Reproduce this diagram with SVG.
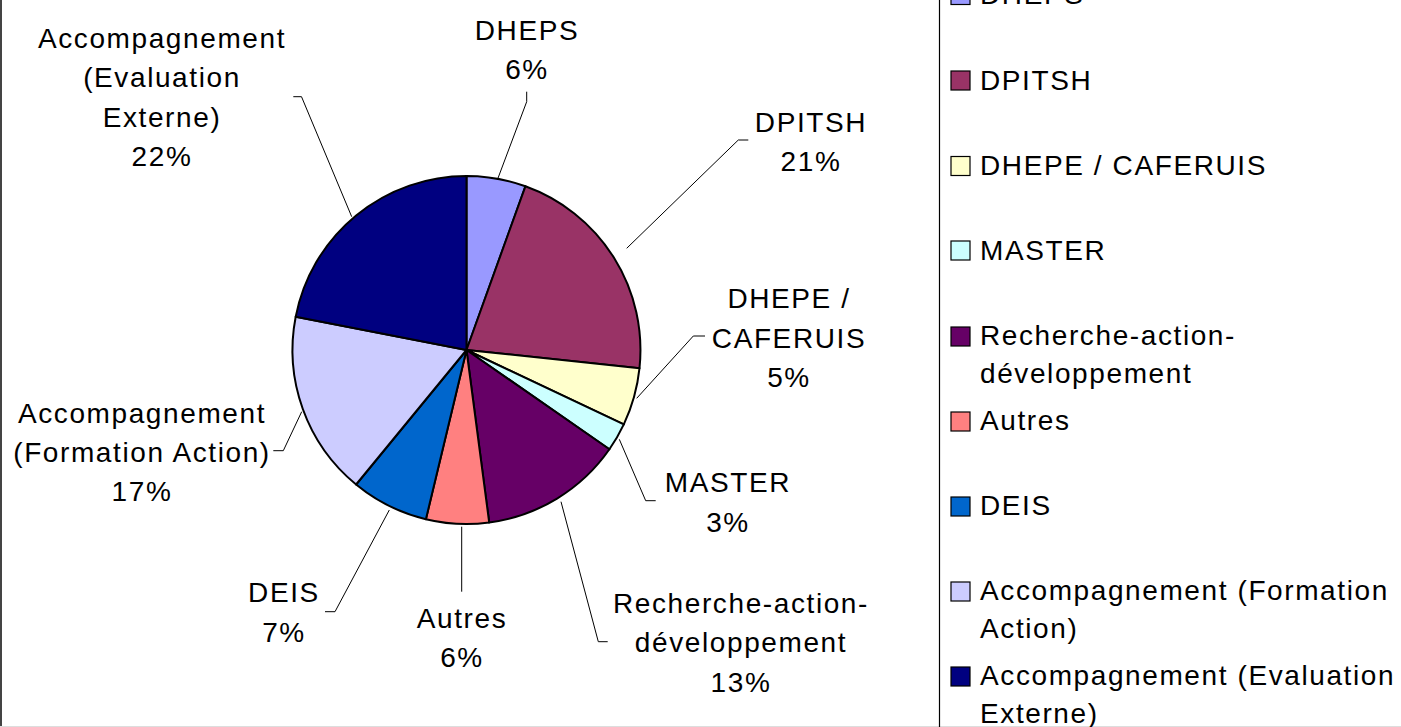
<svg xmlns="http://www.w3.org/2000/svg" width="1401" height="727" viewBox="0 0 1401 727">
<style>
text { font-family: "Liberation Sans", Arial, sans-serif; font-size: 28px; letter-spacing: 1.6px; fill: #000; }
.lbl { text-anchor: middle; }
.slice { stroke: #000; stroke-width: 2; stroke-linejoin: round; }
.lead { fill: none; stroke: #000; stroke-width: 1; }
.sw { stroke: #000; stroke-width: 1.2; }
</style>
<rect x="0" y="0" width="1401" height="727" fill="#fff"/>
<line x1="1" y1="0" x2="1" y2="727" stroke="#444" stroke-width="2"/>
<line x1="0" y1="726.5" x2="1401" y2="726.5" stroke="#ddd" stroke-width="1"/>

<g id="pie">
  <g id="slice-dheps"><path class="slice" fill="#9999FF" d="M466.5,350 L466.5,176 A174,174 0 0 1 525.4,186.3 Z"/></g>
  <g id="slice-dpitsh"><path class="slice" fill="#993366" d="M466.5,350 L525.4,186.3 A174,174 0 0 1 639.5,368.2 Z"/></g>
  <g id="slice-dhepe"><path class="slice" fill="#FFFFCC" d="M466.5,350 L639.5,368.2 A174,174 0 0 1 623.8,424.4 Z"/></g>
  <g id="slice-master"><path class="slice" fill="#CCFFFF" d="M466.5,350 L623.8,424.4 A174,174 0 0 1 609.4,449.3 Z"/></g>
  <g id="slice-recherche"><path class="slice" fill="#660066" d="M466.5,350 L609.4,449.3 A174,174 0 0 1 489.2,522.5 Z"/></g>
  <g id="slice-autres"><path class="slice" fill="#FF8080" d="M466.5,350 L489.2,522.5 A174,174 0 0 1 425.9,519.2 Z"/></g>
  <g id="slice-deis"><path class="slice" fill="#0066CC" d="M466.5,350 L425.9,519.2 A174,174 0 0 1 356.1,484.5 Z"/></g>
  <g id="slice-formation"><path class="slice" fill="#CCCCFF" d="M466.5,350 L356.1,484.5 A174,174 0 0 1 295.7,316.8 Z"/></g>
  <g id="slice-evaluation"><path class="slice" fill="#000080" d="M466.5,350 L295.7,316.8 A174,174 0 0 1 466.5,176 Z"/></g>
</g>

<g id="connectors">
  <path class="lead" d="M497.3,180 L526.7,101.7 L526.7,91.7"/>
  <path class="lead" d="M626.7,248.3 L738.3,140 L748.3,140"/>
  <path class="lead" d="M636.7,398.3 L693.3,336 L705,336"/>
  <path class="lead" d="M619.3,439.3 L645.7,500.7 L655.7,500.7"/>
  <path class="lead" d="M561,501.7 L598.3,641.7 L607.7,641.7"/>
  <path class="lead" d="M461.7,526.7 L461.7,591.7"/>
  <path class="lead" d="M389.3,510 L335,611.7 L325,611.7"/>
  <path class="lead" d="M301.7,411.7 L283.3,450.7 L273.3,450.7"/>
  <path class="lead" d="M351.7,216.7 L301.5,96.7 L293.3,96.7"/>
</g>

<g id="label-dheps"><text class="lbl" x="527" y="40">DHEPS</text><text class="lbl" x="527" y="79">6%</text></g>
<g id="label-dpitsh"><text class="lbl" x="811" y="132">DPITSH</text><text class="lbl" x="811" y="171">21%</text></g>
<g id="label-dhepe"><text class="lbl" x="789" y="308">DHEPE /</text><text class="lbl" x="789" y="348">CAFERUIS</text><text class="lbl" x="789" y="387">5%</text></g>
<g id="label-master"><text class="lbl" x="728" y="492">MASTER</text><text class="lbl" x="728" y="532">3%</text></g>
<g id="label-recherche"><text class="lbl" x="741" y="613">Recherche-action-</text><text class="lbl" x="741" y="652">développement</text><text class="lbl" x="741" y="692">13%</text></g>
<g id="label-autres"><text class="lbl" x="462" y="628">Autres</text><text class="lbl" x="462" y="667">6%</text></g>
<g id="label-deis"><text class="lbl" x="284" y="602">DEIS</text><text class="lbl" x="284" y="642">7%</text></g>
<g id="label-formation"><text class="lbl" x="142" y="423">Accompagnement</text><text class="lbl" x="142" y="462">(Formation Action)</text><text class="lbl" x="142" y="501">17%</text></g>
<g id="label-evaluation"><text class="lbl" x="162" y="48">Accompagnement</text><text class="lbl" x="162" y="87">(Evaluation</text><text class="lbl" x="162" y="127">Externe)</text><text class="lbl" x="162" y="166">22%</text></g>

<g id="legend">
  <line x1="939.5" y1="0" x2="939.5" y2="727" stroke="#000" stroke-width="1.2"/>
  <g id="leg-dheps"><rect class="sw" fill="#9999FF" x="951" y="-14.5" width="19" height="19"/><text x="980" y="4">DHEPS</text></g>
  <g id="leg-dpitsh"><rect class="sw" fill="#993366" x="951" y="71" width="19" height="19"/><text x="980" y="90">DPITSH</text></g>
  <g id="leg-dhepe"><rect class="sw" fill="#FFFFCC" x="951" y="156.5" width="19" height="19"/><text x="980" y="175">DHEPE / CAFERUIS</text></g>
  <g id="leg-master"><rect class="sw" fill="#CCFFFF" x="951" y="241" width="19" height="19"/><text x="980" y="260">MASTER</text></g>
  <g id="leg-recherche"><rect class="sw" fill="#660066" x="951" y="327" width="19" height="19"/><text x="980" y="345">Recherche-action-</text><text x="980" y="383">développement</text></g>
  <g id="leg-autres"><rect class="sw" fill="#FF8080" x="951" y="412" width="19" height="19"/><text x="980" y="430">Autres</text></g>
  <g id="leg-deis"><rect class="sw" fill="#0066CC" x="951" y="497" width="19" height="19"/><text x="980" y="515">DEIS</text></g>
  <g id="leg-formation"><rect class="sw" fill="#CCCCFF" x="951" y="582" width="19" height="19"/><text x="980" y="600">Accompagnement (Formation</text><text x="980" y="638">Action)</text></g>
  <g id="leg-evaluation"><rect class="sw" fill="#000080" x="951" y="667" width="19" height="19"/><text x="980" y="685">Accompagnement (Evaluation</text><text x="980" y="723">Externe)</text></g>
</g>
</svg>
